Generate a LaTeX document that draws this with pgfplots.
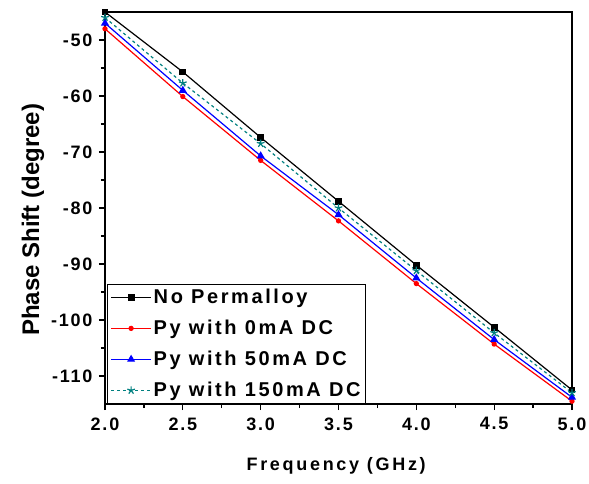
\documentclass[border=0pt]{standalone}
\usepackage{fontspec}
\setmainfont{Liberation Sans}
\usepackage{pgfplots}
\pgfplotsset{compat=1.18}
\definecolor{tealc}{RGB}{0,128,128}
\newcommand{\tickfont}{\fontsize{18}{21}\selectfont\bfseries\addfontfeature{LetterSpace=10}}
\newcommand{\legfont}{\fontsize{20}{23}\selectfont\bfseries\addfontfeature{LetterSpace=13}}

\begin{document}
\begin{tikzpicture}
\useasboundingbox (-105pt,-79pt) rectangle (484pt,404pt);
\begin{axis}[
  at={(0,0)}, anchor=south west,
  scale only axis, width=467pt, height=392pt,
  xmin=2, xmax=5, ymin=-115, ymax=-45,
  xtick={2,2.5,...,5}, minor x tick num=1,
  ytick={-110,-100,...,-50}, minor y tick num=1,
  tick align=outside, xtick pos=bottom, ytick pos=left,
  major tick length=6pt, minor tick length=4pt,
  axis line style={line width=1.8pt},
  every tick/.style={line width=1.3pt, black},
  /pgf/number format/assume math mode=true,
  xticklabel style={font=\tickfont, yshift=-4pt, /pgf/number format/.cd, fixed, fixed zerofill, precision=1},
  yticklabel style={font=\tickfont, xshift=-3pt},
  xlabel={Frequency (GHz)},
  xlabel style={font=\fontsize{18}{21}\selectfont\bfseries\addfontfeature{LetterSpace=15}, at={(ticklabel cs:0.495)}, yshift=-20pt},
  ylabel={Phase Shift (degree)},
  ylabel style={font=\fontsize{24}{28}\selectfont\bfseries, at={(ticklabel cs:0.47)}, yshift=0pt},
  legend cell align=left,
  legend style={at={(axis description cs:0.004,0)}, anchor=south west, font=\legfont,
    draw=black, line width=1.3pt, row sep=11pt, inner sep=3pt},
  legend image code/.code={
    \draw[mark repeat=2, mark phase=2] plot coordinates {(0pt,0pt) (20pt,0pt) (40pt,0pt)};
  },
]
\addplot[black, line width=1.2pt, mark=square*, mark size=2.8pt] coordinates {
  (2.0,-45.0) (2.5,-55.7) (3.0,-67.4) (3.5,-78.8) (4.0,-90.2) (4.5,-101.3) (5.0,-112.5)
};
\addlegendentry{No Permalloy}
\addplot[red, line width=1.2pt, mark=*, mark size=2pt] coordinates {
  (2.0,-48.0) (2.5,-60.1) (3.0,-71.5) (3.5,-82.3) (4.0,-93.5) (4.5,-104.3) (5.0,-114.5)
};
\addlegendentry{Py with 0mA DC}
\addplot[blue, line width=1.2pt, mark=triangle*, mark size=3.5pt] coordinates {
  (2.0,-47.0) (2.5,-59.0) (3.0,-70.7) (3.5,-81.2) (4.0,-92.5) (4.5,-103.5) (5.0,-113.8)
};
\addlegendentry{Py with 50mA DC}
\addplot[tealc, line width=1.2pt, dashed, mark=star, mark size=4pt, mark options={solid, line width=1.2pt}] coordinates {
  (2.0,-46.0) (2.5,-57.7) (3.0,-68.5) (3.5,-80.0) (4.0,-91.2) (4.5,-102.3) (5.0,-113.0)
};
\addlegendentry{Py with 150mA DC}
\end{axis}
\end{tikzpicture}
\end{document}
